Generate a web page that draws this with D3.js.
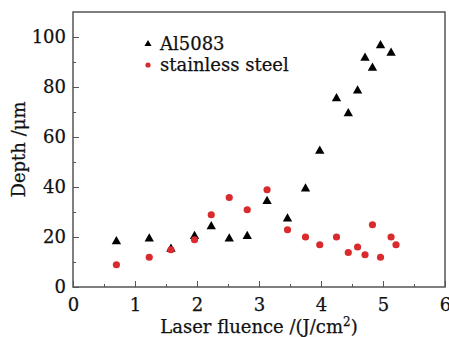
<!DOCTYPE html>
<html>
<head>
<meta charset="utf-8">
<script src="https://cdn.jsdelivr.net/npm/d3@7"></script>
<style>
  body { margin: 0; background: #fff; }
  svg text { font-family: "DejaVu Serif", serif; fill: #111; stroke: #111; stroke-width: 0.25px; }
</style>
</head>
<body>
<div id="chart"></div>
<script>
// Al5083 (triangles)
const alFluence = [0.70, 1.23, 1.58, 1.96, 2.23, 2.52, 2.81, 3.13, 3.46, 3.75, 3.98, 4.25, 4.44, 4.59, 4.71, 4.83, 4.96, 5.13];
const alDepth   = [18.2, 19.3, 15.2, 20.3, 24.2, 19.3, 20.3, 34.3, 27.3, 39.3, 54.4, 75.4, 69.4, 78.5, 91.6, 87.6, 96.6, 93.6];
// stainless steel (circles)
const ssFluence = [0.70, 1.23, 1.58, 1.96, 2.23, 2.52, 2.81, 3.13, 3.46, 3.75, 3.98, 4.25, 4.44, 4.59, 4.71, 4.83, 4.96, 5.13, 5.21];
const ssDepth   = [8.9, 11.9, 14.9, 18.9, 28.9, 35.8, 30.9, 38.9, 22.9, 20.0, 16.9, 20.0, 13.8, 16.0, 12.9, 24.9, 11.9, 20.0, 16.9];

const xTicks = [0, 1, 2, 3, 4, 5, 6];
const yTicks = [0, 20, 40, 60, 80, 100];
const seriesNames = ['Al5083', 'stainless steel'];

const width = 449, height = 337;
const margin = {top: 12, right: 4, bottom: 50, left: 73};

const svg = d3.select('#chart').append('svg')
    .attr('width', width)
    .attr('height', height);

const x = d3.scaleLinear().domain([0, 6]).range([margin.left, width - margin.right]);
const y = d3.scaleLinear().domain([0, 110]).range([height - margin.bottom, margin.top]);

// minor ticks (inward)
const xMinor = d3.range(0.5, 6, 1);
const yMinor = d3.range(10, 110, 20);

svg.append('g')
    .attr('transform', `translate(0,${y(0)})`)
    .call(d3.axisBottom(x).tickValues(xMinor).tickSize(-3).tickFormat(''))
    .call(g => g.select('.domain').remove())
    .selectAll('line').attr('stroke', '#555');

svg.append('g')
    .attr('transform', `translate(${x(0)},0)`)
    .call(d3.axisLeft(y).tickValues(yMinor).tickSize(-3).tickFormat(''))
    .call(g => g.select('.domain').remove())
    .selectAll('line').attr('stroke', '#555');

// major ticks
const xAxis = svg.append('g')
    .attr('transform', `translate(0,${y(0)})`)
    .call(d3.axisBottom(x).tickValues(xTicks).tickSize(-6).tickPadding(11).tickFormat(d3.format('d')));
xAxis.select('.domain').remove();
xAxis.selectAll('line').attr('stroke', '#555');
xAxis.selectAll('text').style('font-size', '18px').attr('fill', '#111');

const yAxis = svg.append('g')
    .attr('transform', `translate(${x(0)},0)`)
    .call(d3.axisLeft(y).tickValues(yTicks).tickSize(-6).tickPadding(7).tickFormat(d3.format('d')));
yAxis.select('.domain').remove();
yAxis.selectAll('line').attr('stroke', '#555');
yAxis.selectAll('text').style('font-size', '18px').attr('fill', '#111');

// frame
svg.append('rect')
    .attr('x', x(0))
    .attr('y', y(110))
    .attr('width', x(6) - x(0))
    .attr('height', y(0) - y(110))
    .attr('fill', 'none')
    .attr('stroke', '#555')
    .attr('stroke-width', 1.5);

// data
const tri = d3.symbol().type(d3.symbolTriangle).size(38);

svg.append('g').selectAll('path')
    .data(alFluence.map((f, i) => [f, alDepth[i]]))
    .enter().append('path')
    .attr('d', tri)
    .attr('transform', d => `translate(${x(d[0])},${y(d[1])})`)
    .attr('fill', '#000');

svg.append('g').selectAll('circle')
    .data(ssFluence.map((f, i) => [f, ssDepth[i]]))
    .enter().append('circle')
    .attr('cx', d => x(d[0]))
    .attr('cy', d => y(d[1]))
    .attr('r', 3.6)
    .attr('fill', '#d92a2e');

// legend
const legend = svg.append('g');
legend.append('path')
    .attr('d', d3.symbol().type(d3.symbolTriangle).size(22))
    .attr('transform', `translate(148,44)`)
    .attr('fill', '#000');
legend.append('text')
    .attr('x', 160).attr('y', 50)
    .style('font-size', '18px')
    .text(seriesNames[0]);
legend.append('circle')
    .attr('cx', 148).attr('cy', 65).attr('r', 2.6)
    .attr('fill', '#d92a2e');
legend.append('text')
    .attr('x', 160).attr('y', 71)
    .style('font-size', '18px')
    .text(seriesNames[1]);

// axis titles
const xt = svg.append('text')
    .attr('x', (x(0) + x(6)) / 2)
    .attr('y', 333)
    .attr('text-anchor', 'middle')
    .style('font-size', '18px');
xt.append('tspan').text('Laser fluence /(J/cm');
xt.append('tspan').attr('dy', -7).style('font-size', '12px').text('2');
xt.append('tspan').attr('dy', 7).text(')');

svg.append('text')
    .attr('transform', `translate(25,${(y(0) + y(110)) / 2}) rotate(-90)`)
    .attr('text-anchor', 'middle')
    .style('font-size', '18px')
    .text('Depth /μm');
</script>
</body>
</html>
